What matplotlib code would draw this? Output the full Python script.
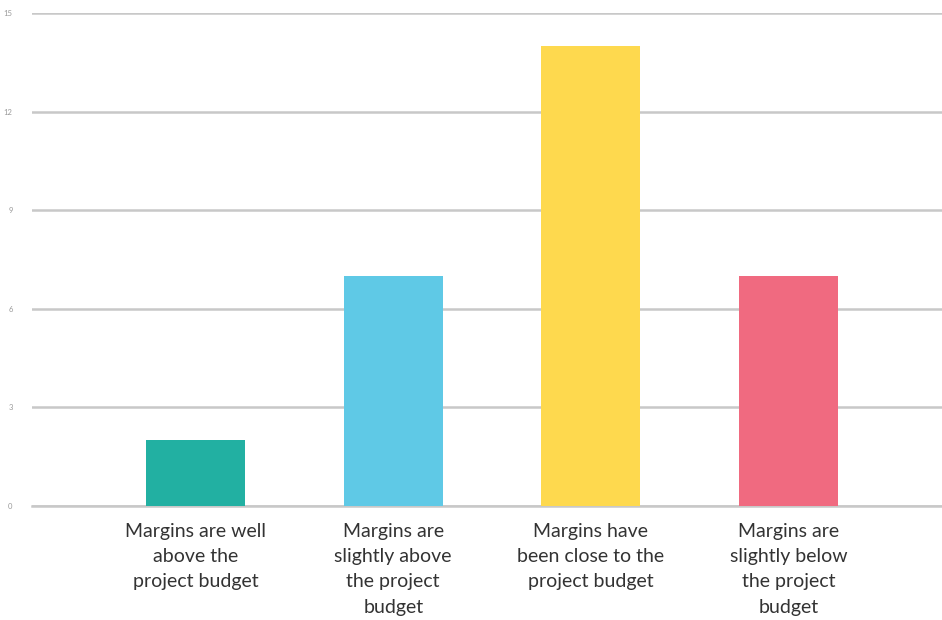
import matplotlib.pyplot as plt

categories = [
    "Margins are well\nabove the\nproject budget",
    "Margins are\nslightly above\nthe project\nbudget",
    "Margins have\nbeen close to the\nproject budget",
    "Margins are\nslightly below\nthe project\nbudget",
]
responses = [2, 7, 14, 7]
colors = ["#22b0a2", "#5fc9e6", "#fed94e", "#f06a80"]
yticks = [0, 3, 6, 9, 12, 15]

plt.rcParams['font.family'] = ['Lato', 'DejaVu Sans']

fig = plt.figure(figsize=(9.42, 6.2), dpi=100)
ax = fig.add_axes([0.034, 0.184, 0.966, 0.795])

x = list(range(len(categories)))
ax.bar(x, responses, width=0.5, color=colors, zorder=3)

ax.set_xlim(-0.827, 3.776)
ax.set_ylim(0, 15)
ax.set_yticks(yticks)
ax.set_yticklabels([str(t) for t in yticks], fontsize=5.5, color="#999999")
ax.yaxis.grid(True, color="#c8c8c8", linewidth=1.8, zorder=0)
ax.axhline(0, color="#c8c8c8", linewidth=1.8, zorder=1, clip_on=False)
ax.tick_params(axis="y", length=0, pad=14)
ax.tick_params(axis="x", length=0, pad=12)
ax.set_xticks(x)
ax.set_xticklabels(categories, fontsize=14, color="#333333", linespacing=1.6)

for s in ax.spines.values():
    s.set_visible(False)

fig.savefig("out.png", dpi=100)
